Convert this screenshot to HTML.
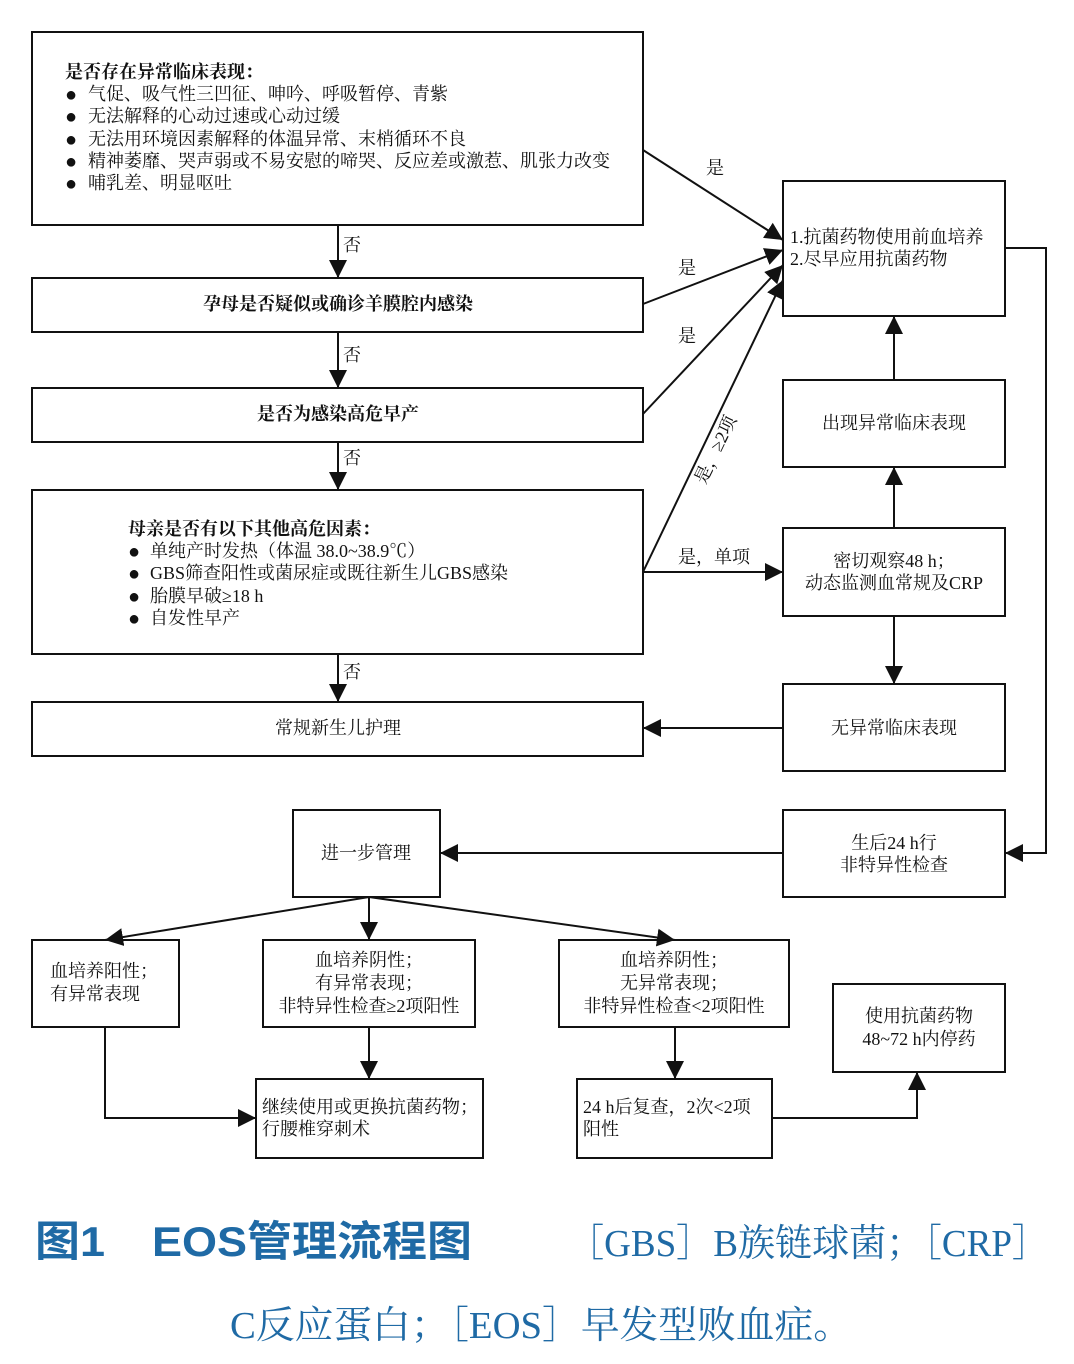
<!DOCTYPE html><html><head><meta charset="utf-8"><style>body{margin:0;background:#fff}svg{display:block}</style></head><body>
<svg width="1074" height="1364" viewBox="0 0 1074 1364" xmlns="http://www.w3.org/2000/svg" font-family="'Liberation Serif','Noto Serif CJK SC',serif" font-size="18" fill="#111">
<defs><marker id="a" viewBox="0 0 10 10" refX="10" refY="5" markerWidth="18" markerHeight="18" markerUnits="userSpaceOnUse" orient="auto"><path d="M0,0L10,5L0,10z" fill="#111"/></marker></defs>
<g fill="none" stroke="#111" stroke-width="2">
<rect x="32" y="32" width="611" height="193"/><rect x="32" y="278" width="611" height="54"/><rect x="32" y="388" width="611" height="54"/><rect x="32" y="490" width="611" height="164"/><rect x="32" y="702" width="611" height="54"/>
<rect x="783" y="181" width="222" height="135"/><rect x="783" y="380" width="222" height="87"/><rect x="783" y="528" width="222" height="88"/><rect x="783" y="684" width="222" height="87"/><rect x="783" y="810" width="222" height="87"/>
<rect x="293" y="810" width="147" height="87"/><rect x="32" y="940" width="147" height="87"/><rect x="263" y="940" width="212" height="87"/><rect x="559" y="940" width="230" height="87"/><rect x="833" y="984" width="172" height="88"/><rect x="256" y="1079" width="227" height="79"/><rect x="577" y="1079" width="195" height="79"/>
</g>
<g fill="none" stroke="#111" stroke-width="2" marker-end="url(#a)">
<path d="M338 225V278"/><path d="M338 332V388"/><path d="M338 442V490"/><path d="M338 654V702"/>
<path d="M643 150L783 240"/><path d="M643 304L783 250"/><path d="M643 414L783 265"/><path d="M643 572L783 280"/><path d="M643 572H783"/>
<path d="M894 528V467"/><path d="M894 380V316"/><path d="M894 616V684"/><path d="M783 728H643"/>
<path d="M1005 248H1046V853H1005"/><path d="M783 853H440"/>
<path d="M369 897V940"/><path d="M369 897L105 940"/><path d="M369 897L675 940"/>
<path d="M105 1027V1118H256"/><path d="M369 1027V1079"/><path d="M675 1027V1079"/><path d="M772 1118H917V1072"/>
</g>
<g>
<text x="65" y="78" font-weight="bold">是否存在异常临床表现：</text>
<g font-size="20"><text x="65" y="101">●</text><text x="65" y="123">●</text><text x="65" y="146">●</text><text x="65" y="168">●</text><text x="65" y="190">●</text>
<text x="128" y="558">●</text><text x="128" y="580">●</text><text x="128" y="603">●</text><text x="128" y="625">●</text></g>
<text x="88" y="100">气促、吸气性三凹征、呻吟、呼吸暂停、青紫</text>
<text x="88" y="122">无法解释的心动过速或心动过缓</text>
<text x="88" y="145">无法用环境因素解释的体温异常、末梢循环不良</text>
<text x="88" y="167">精神萎靡、哭声弱或不易安慰的啼哭、反应差或激惹、肌张力改变</text>
<text x="88" y="189">哺乳差、明显呕吐</text>
<text x="338" y="310" text-anchor="middle" font-weight="bold">孕母是否疑似或确诊羊膜腔内感染</text>
<text x="338" y="420" text-anchor="middle" font-weight="bold">是否为感染高危早产</text>
<text x="128" y="535" font-weight="bold">母亲是否有以下其他高危因素：</text>
<text x="150" y="557">单纯产时发热（体温 38.0~38.9℃）</text>
<text x="150" y="579">GBS筛查阳性或菌尿症或既往新生儿GBS感染</text>
<text x="150" y="602">胎膜早破≥18 h</text>
<text x="150" y="624">自发性早产</text>
<text x="338" y="734" text-anchor="middle">常规新生儿护理</text>
<text x="343" y="251">否</text><text x="343" y="361">否</text><text x="343" y="464">否</text><text x="343" y="678">否</text>
<text x="706" y="174">是</text><text x="678" y="274">是</text><text x="678" y="342">是</text><text x="678" y="563">是，单项</text>
<text transform="translate(705,485) rotate(-64)">是，≥2项</text>
<text x="790" y="243">1.抗菌药物使用前血培养</text><text x="790" y="265">2.尽早应用抗菌药物</text>
<text x="894" y="429" text-anchor="middle">出现异常临床表现</text>
<text x="894" y="567" text-anchor="middle">密切观察48 h；</text><text x="894" y="589" text-anchor="middle">动态监测血常规及CRP</text>
<text x="894" y="734" text-anchor="middle">无异常临床表现</text>
<text x="894" y="849" text-anchor="middle">生后24 h行</text><text x="894" y="871" text-anchor="middle">非特异性检查</text>
<text x="366" y="859" text-anchor="middle">进一步管理</text>
<text x="50" y="977">血培养阳性；</text><text x="50" y="1000">有异常表现</text>
<text x="369" y="966" text-anchor="middle">血培养阴性；</text><text x="369" y="989" text-anchor="middle">有异常表现；</text><text x="369" y="1012" text-anchor="middle">非特异性检查≥2项阳性</text>
<text x="674" y="966" text-anchor="middle">血培养阴性；</text><text x="674" y="989" text-anchor="middle">无异常表现；</text><text x="674" y="1012" text-anchor="middle">非特异性检查&lt;2项阳性</text>
<text x="919" y="1022" text-anchor="middle">使用抗菌药物</text><text x="919" y="1045" text-anchor="middle">48~72 h内停药</text>
<text x="262" y="1113">继续使用或更换抗菌药物；</text><text x="262" y="1135">行腰椎穿刺术</text>
<text x="583" y="1113">24 h后复查，2次&lt;2项</text><text x="583" y="1135">阳性</text>
</g>
<g font-family="'Liberation Sans','Noto Sans CJK SC',sans-serif" font-weight="bold" font-size="42" fill="#1f6aa5">
<text x="35" y="1256" textLength="70" lengthAdjust="spacingAndGlyphs">图1</text>
<text x="152" y="1256" textLength="320" lengthAdjust="spacingAndGlyphs">EOS管理流程图</text></g>
<text x="567" y="1256" font-size="38" fill="#1f6aa5" textLength="482" lengthAdjust="spacingAndGlyphs">［GBS］B族链球菌；［CRP］</text>
<text x="230" y="1338" font-size="38" fill="#1f6aa5" textLength="622" lengthAdjust="spacingAndGlyphs">C反应蛋白；［EOS］早发型败血症。</text>
</svg></body></html>
